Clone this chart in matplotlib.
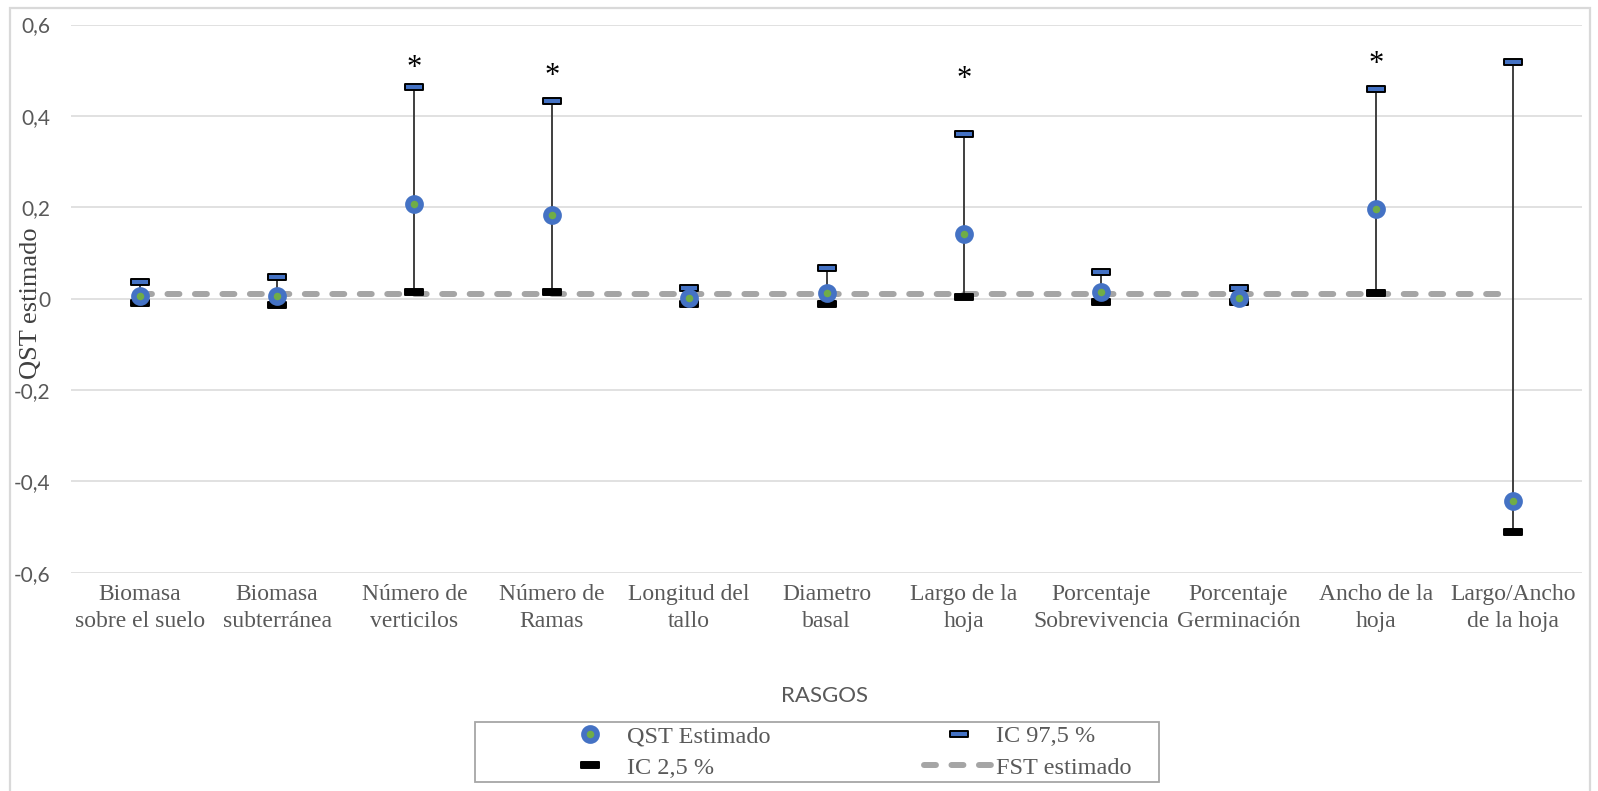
import matplotlib
matplotlib.use("Agg")
import matplotlib.pyplot as plt
from matplotlib.path import Path
from matplotlib.lines import Line2D
from matplotlib.patches import Rectangle

# ---------------- data ----------------
categories = ["Biomasa\nsobre el suelo", "Biomasa\nsubterránea", "Número de\nverticilos",
              "Número de\nRamas", "Longitud del\ntallo", "Diametro\nbasal",
              "Largo de la\nhoja", "Porcentaje\nSobrevivencia", "Porcentaje\nGerminación",
              "Ancho de la\nhoja", "Largo/Ancho\nde la hoja"]
qst_estimado = [0.005, 0.006, 0.207, 0.182, 0.001, 0.012, 0.142, 0.014, 0.002, 0.197, -0.442]
ic_975 = [0.037, 0.048, 0.464, 0.432, 0.024, 0.066, 0.361, 0.059, 0.024, 0.459, 0.519]
ic_25 = [-0.010, -0.014, 0.015, 0.014, -0.011, -0.012, 0.004, -0.007, -0.008, 0.013, -0.512]
fst_estimado = [0.010, 0.010, 0.010, 0.010, 0.010, 0.010, 0.010, 0.010, 0.010, 0.010, 0.010]
significance = ["", "", "*", "*", "", "", "*", "", "", "*", ""]
star_y = [None, None, 0.503, 0.487, None, None, 0.479, None, None, 0.512, None]
y_ticks = [-0.6, -0.4, -0.2, 0.0, 0.2, 0.4, 0.6]
y_tick_labels = ["-0,6", "-0,4", "-0,2", "0", "0,2", "0,4", "0,6"]

BLUE = "#4472C4"
GREEN = "#70AD47"
GRAY_TXT = "#595959"
SERIF = ["Liberation Serif", "DejaVu Serif"]
SANS = ["Lato", "DejaVu Sans"]

W, H = 1598, 791
fig = plt.figure(figsize=(W / 100, H / 100), dpi=100)

# plot area in pixels
x0, x1 = 71, 1582
y_top, y_bot = 24.5, 572.7
ax = fig.add_axes([x0 / W, 1 - y_bot / H, (x1 - x0) / W, (y_bot - y_top) / H])
ax.set_xlim(-0.5, len(categories) - 0.5)
ax.set_ylim(-0.6, 0.6)
for s in ax.spines.values():
    s.set_visible(False)

ax.set_yticks(y_ticks)
ax.set_yticklabels(y_tick_labels, fontfamily=SANS, fontsize=15, color=GRAY_TXT)
ax.tick_params(axis="y", length=0, pad=15)
ax.yaxis.grid(True, color="#D9D9D9", lw=1.1, zorder=0)
ax.set_axisbelow(True)

x = list(range(len(categories)))
ax.set_xticks(x)
ax.set_xticklabels(categories, fontfamily=SERIF, fontsize=17, color=GRAY_TXT,
                   linespacing=1.36)
ax.tick_params(axis="x", length=0, pad=8)

# FST dashed line
ax.plot(x, fst_estimado, color="#A5A5A5", lw=4.3, linestyle=(0, (2.0, 2.6)),
        dash_capstyle="round", zorder=2)

# error bar stems
ax.vlines(x, ic_25, ic_975, color="#3F3F3F", lw=1.4, zorder=3)

cap_path = Path([(-1, -0.28), (1, -0.28), (1, 0.28), (-1, 0.28), (-1, -0.28)],
                [Path.MOVETO, Path.LINETO, Path.LINETO, Path.LINETO, Path.CLOSEPOLY])
CAP_MS = 13
ax.plot(x, ic_975, linestyle="none", marker=cap_path, ms=CAP_MS, mfc=BLUE, mec="black",
        mew=1.4, zorder=4)
ax.plot(x, ic_25, linestyle="none", marker=cap_path, ms=CAP_MS, mfc="black", mec="black",
        mew=1.4, zorder=4)
ax.plot(x, qst_estimado, linestyle="none", marker="o", ms=9.5, mfc=GREEN, mec=BLUE,
        mew=4.0, zorder=5)

for xi, sig, sy in zip(x, significance, star_y):
    if sig:
        ax.text(xi, sy, sig, ha="center", va="center", fontfamily=SERIF, fontsize=22,
                color="black", zorder=6)

# y label
fig.text(31 / W, 1 - 303 / H, "QST estimado", rotation=90, ha="center", va="center",
         fontfamily=SERIF, fontsize=19, color="#404040")

# x title
fig.text(825 / W, 1 - 696 / H, "RASGOS", ha="center", va="center",
         fontfamily=SANS, fontsize=16, color=GRAY_TXT)

# outer chart border
fig.add_artist(Rectangle((10 / W, -0.02), 1580 / W, 1 - 8 / H + 0.02, fill=False,
                         ec="#D9D9D9", lw=1.6, transform=fig.transFigure))

# legend frame
lx0, lx1, ly0, ly1 = 475, 1159, 722, 782
fig.add_artist(Rectangle((lx0 / W, 1 - ly1 / H), (lx1 - lx0) / W, (ly1 - ly0) / H,
                         fill=False, ec="#A6A6A6", lw=1.3, transform=fig.transFigure))

h_qst = Line2D([], [], linestyle="none", marker="o", ms=9.5, mfc=GREEN, mec=BLUE, mew=4.0)
h_up = Line2D([], [], linestyle="none", marker=cap_path, ms=CAP_MS, mfc=BLUE, mec="black", mew=1.4)
h_lo = Line2D([], [], linestyle="none", marker=cap_path, ms=CAP_MS, mfc="black", mec="black", mew=1.4)
h_fst = Line2D([], [], color="#A5A5A5", lw=4.3, linestyle=(0, (2.0, 2.6)), dash_capstyle="round")

fs_leg = 17.5
px_per_em = fs_leg * 100 / 72
leg = fig.legend([h_qst, h_lo, h_up, h_fst],
                 ["QST Estimado", "IC 2,5 %", "IC 97,5 %", "FST estimado"],
                 ncol=2, loc="upper left", bbox_to_anchor=(554 / W, 1 - 725 / H),
                 frameon=False, borderpad=0, borderaxespad=0,
                 handlelength=71 / px_per_em, handletextpad=2 / px_per_em,
                 columnspacing=153 / px_per_em, labelspacing=0.40,
                 prop={"family": SERIF, "size": fs_leg})
for t in leg.get_texts():
    t.set_color(GRAY_TXT)

fig.savefig("out.png", dpi=100, facecolor="white")
